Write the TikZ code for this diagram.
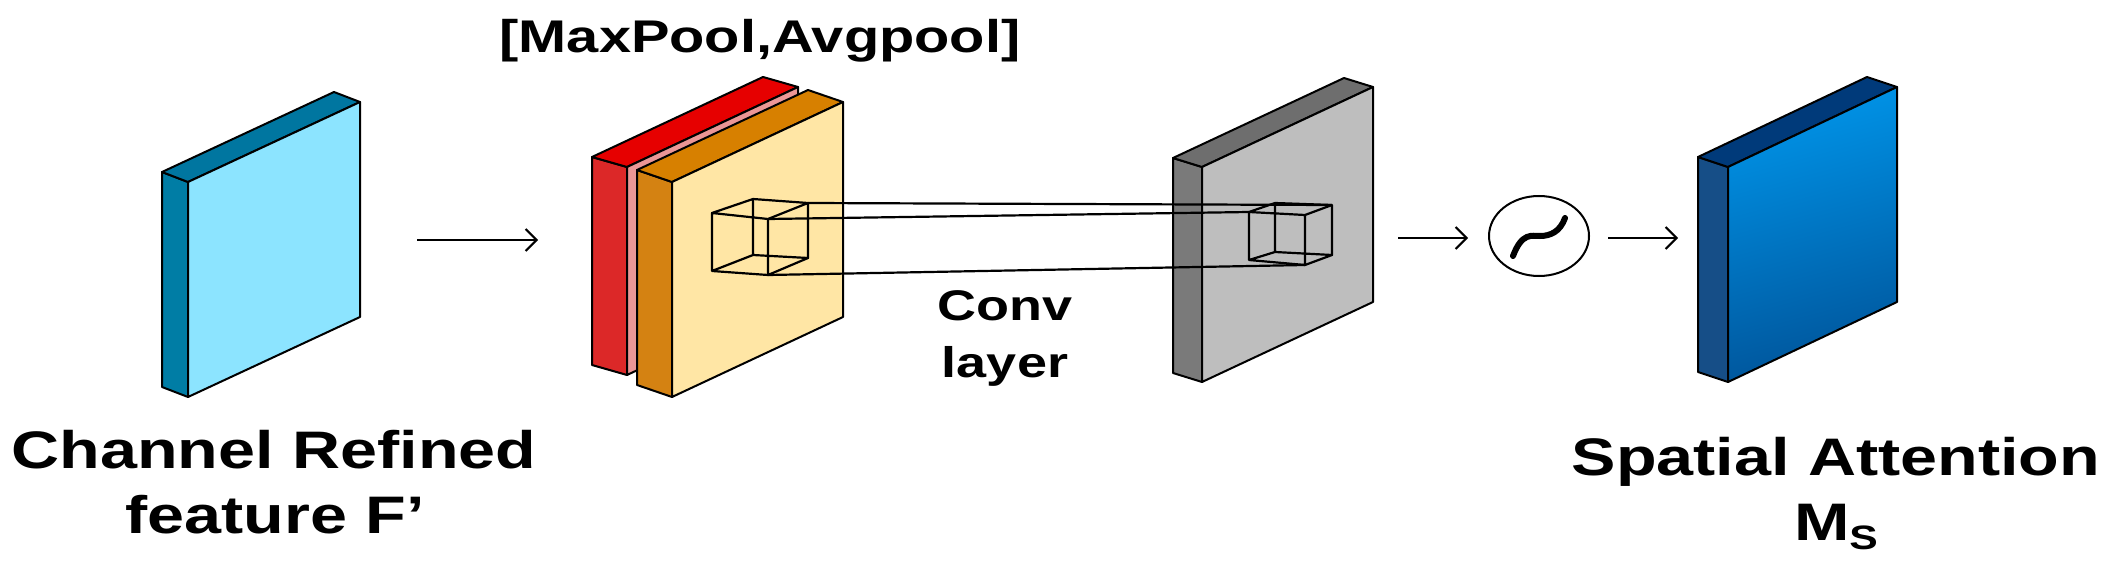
\documentclass[tikz,border=0pt]{standalone}
\usepackage{fontspec}
\setmainfont{Liberation Sans}
\usetikzlibrary{calc,arrows.meta,shapes.geometric}
\definecolor{cyF}{RGB}{140,228,255}\definecolor{cyS}{RGB}{0,125,165}\definecolor{cyT}{RGB}{0,118,160}
\definecolor{rdF}{RGB}{235,150,150}\definecolor{rdS}{RGB}{220,40,40}\definecolor{rdT}{RGB}{230,0,0}
\definecolor{orF}{RGB}{255,230,165}\definecolor{orS}{RGB}{212,130,18}\definecolor{orT}{RGB}{215,128,0}
\definecolor{grF}{RGB}{190,190,190}\definecolor{grS}{RGB}{122,122,122}\definecolor{grT}{RGB}{110,110,110}
\definecolor{blF1}{RGB}{0,148,232}\definecolor{blF2}{RGB}{0,85,155}\definecolor{blS}{RGB}{22,78,135}\definecolor{blT}{RGB}{0,58,122}
\tikzset{
  edge/.style={draw=black,line width=2bp,line join=round},
  cy front/.style={edge,fill=cyF}, cy side/.style={edge,fill=cyS}, cy top/.style={edge,fill=cyT},
  rd front/.style={edge,fill=rdF}, rd side/.style={edge,fill=rdS}, rd top/.style={edge,fill=rdT},
  or front/.style={edge,fill=orF}, or side/.style={edge,fill=orS}, or top/.style={edge,fill=orT},
  gr front/.style={edge,fill=grF}, gr side/.style={edge,fill=grS}, gr top/.style={edge,fill=grT},
  bl front/.style={edge,top color=blF1,bottom color=blF2,shading angle=15}, bl side/.style={edge,fill=blS}, bl top/.style={edge,fill=blT},
  wire/.style={draw=black,line width=2.2bp,line join=round},
  arr/.style={draw=black,line width=2bp,-{Straight Barb[length=11bp,width=22bp,line width=2bp]}},
  big/.style={font=\fontsize{53}{60}\selectfont\bfseries,inner sep=0pt,anchor=base},
  mid/.style={font=\fontsize{46}{52}\selectfont\bfseries,inner sep=0pt,anchor=base},
  sml/.style={font=\fontsize{43}{50}\selectfont\bfseries,inner sep=0pt,anchor=base},
}
\newcommand{\myslab}[7]{%
  \coordinate (#1-a) at (#2,#3);
  \coordinate (#1-b) at ($(#1-a)+(#4,-80)$);
  \coordinate (#1-c) at ($(#1-b)+(0,#5)$);
  \coordinate (#1-d) at ($(#1-a)+(0,#5)$);
  \path[#1 side] (#1-a) -- (#1-d) -- ++(#6,#7) -- ($(#1-a)+(#6,#7)$) -- cycle;
  \path[#1 top] (#1-a) -- (#1-b) -- ++(#6,#7) -- ($(#1-a)+(#6,#7)$) -- cycle;
  \path[#1 front] (#1-a) -- (#1-b) -- (#1-c) -- (#1-d) -- cycle;
}
\newcommand{\Wx}{1.26}
\begin{document}
\begin{tikzpicture}[x=1bp,y=-1bp]
\useasboundingbox (0,0) rectangle (2117,568);
% slabs
\myslab{cy}{188}{182}{172}{215}{-26}{-10}
\myslab{rd}{627}{167}{171}{208}{-35}{-10}
\myslab{or}{672}{182}{171}{215}{-35}{-12}
\myslab{gr}{1202}{167}{171}{215}{-29}{-9}
\myslab{bl}{1728}{167}{169}{215}{-30}{-10}
% kernel cube on pooled maps
\coordinate (A1) at (712,213); \coordinate (A2) at (768,219);
\coordinate (A3) at (768,275); \coordinate (A4) at (712,271);
\coordinate (B1) at (753,199); \coordinate (B2) at (808,203);
\coordinate (B3) at (808,258); \coordinate (B4) at (753,255);
\draw[wire] (A1)--(A2)--(A3)--(A4)--cycle (B1)--(B2)--(B3)--(B4)--cycle
  (A1)--(B1) (A2)--(B2) (A3)--(B3) (A4)--(B4);
% cube on conv output
\coordinate (C1) at (1249,212); \coordinate (C2) at (1305,215);
\coordinate (C3) at (1305,265); \coordinate (C4) at (1249,260);
\coordinate (D1) at (1275,203); \coordinate (D2) at (1332,205);
\coordinate (D3) at (1332,255); \coordinate (D4) at (1275,252);
\draw[wire] (C1)--(C2)--(C3)--(C4)--cycle (D1)--(D2)--(D3)--(D4)--cycle
  (C1)--(D1) (C2)--(D2) (C3)--(D3) (C4)--(D4);
% projection lines
\draw[wire] (B2)--(D2) (A2)--(C1) (A3)--(C3);
% sigmoid
\node[ellipse,draw=black,line width=2bp,minimum width=100bp,minimum height=80bp,inner sep=0pt] (sig) at (1539,236) {};
\draw[line width=6bp,line cap=round] (1513,256) .. controls (1522,232) and (1532,236) .. (1540,236) .. controls (1550,236) and (1560,232) .. (1565,218);
% arrows
\coordinate (p1) at (417,240); \coordinate (p2) at (538,240);
\coordinate (p3) at (1398,238); \coordinate (p4) at (1468,238);
\coordinate (p5) at (1608,238); \coordinate (p6) at (1678,238);
\draw[arr] (p1)--(p2);
\draw[arr] (p3)--(p4);
\draw[arr] (p5)--(p6);
% texts
\node[mid] (t1) at (760,53) {\scalebox{\Wx}[1]{[MaxPool,Avgpool]}};
\node[big] (t2) at (274,468) {\scalebox{\Wx}[1]{Channel Refined}};
\node[big] (t3) at (275,533) {\scalebox{\Wx}[1]{feature F'}};
\node[sml] (t4) at (1005,320) {\scalebox{\Wx}[1]{Conv}};
\node[sml] (t5) at (1005,377) {\scalebox{\Wx}[1]{layer}};
\node[big] (t6) at (1836,475) {\scalebox{\Wx}[1]{Spatial Attention}};
\node[big] (t7) at (1836,540) {\scalebox{\Wx}[1]{M\raisebox{-9bp}{\fontsize{34}{34}\selectfont S}}};
\end{tikzpicture}
\end{document}
